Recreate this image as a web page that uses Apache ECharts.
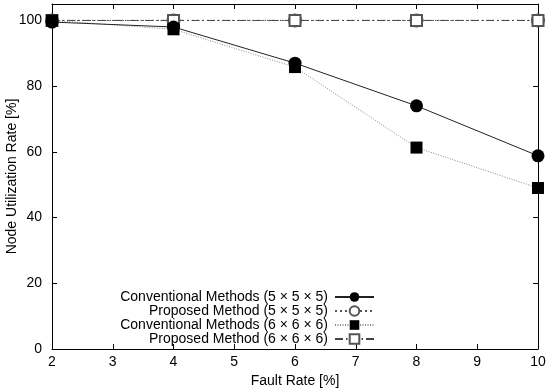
<!DOCTYPE html>
<html><head><meta charset="utf-8">
<script src="https://cdn.jsdelivr.net/npm/echarts@6/dist/echarts.min.js"></script>
<style>html,body{margin:0;padding:0;background:#fff}#c{width:550px;height:389px}</style>
</head><body><div id="c"></div>
<script>
const faultRates = [2, 4, 6, 8, 10];
const conv5 = [99.5, 98.0, 87.0, 74.0, 58.8];
const prop5 = [100, 100, 100, 100, 100];
const conv6 = [100, 97.3, 85.8, 61.3, 49.0];
const prop6 = [100, 100, 100, 100, 100];
const seriesNames = [
  'Conventional Methods (5 × 5 × 5)',
  'Proposed Method (5 × 5 × 5)',
  'Conventional Methods (6 × 6 × 6)',
  'Proposed Method (6 × 6 × 6)'
];
const pair = arr => faultRates.map((x, i) => [x, arr[i]]);
const font = 'Liberation Sans, Arial, sans-serif';
const chart = echarts.init(document.getElementById('c'), null, {renderer: 'canvas'});
const axLine = {show: true, onZero: false, lineStyle: {color: '#000', width: 1}};
const tick = {inside: true, length: 5, lineStyle: {color: '#000'}};
chart.setOption({
  animation: false,
  grid: {left: 52, right: 12, top: 4, bottom: 40, outerBoundsMode: 'none', containLabel: false},
  legend: {
    right: 170, bottom: 38, orient: 'vertical', align: 'right',
    itemGap: 0, itemWidth: 39, itemHeight: 12,
    textStyle: {fontFamily: font, fontSize: 14, lineHeight: 14, color: '#000', padding: [0, 2, 0, 0]},
    data: seriesNames
  },
  xAxis: [{
    type: 'value', min: 2, max: 10, interval: 1,
    name: 'Fault Rate [%]', nameLocation: 'middle', nameGap: 23,
    nameTextStyle: {fontFamily: font, fontSize: 14, color: '#000'},
    axisLine: axLine, axisTick: tick,
    axisLabel: {fontFamily: font, fontSize: 14, color: '#000', margin: 6},
    splitLine: {show: false}
  }, {
    type: 'value', min: 2, max: 10, interval: 1, position: 'top',
    axisLine: axLine, axisTick: tick,
    axisLabel: {show: false}, splitLine: {show: false}
  }],
  yAxis: [{
    type: 'value', min: 0, max: 105, interval: 20,
    name: 'Node Utilization Rate [%]', nameLocation: 'middle', nameGap: 33,
    nameMoveOverlap: false,
    nameTextStyle: {fontFamily: font, fontSize: 14, color: '#000'},
    axisLine: axLine, axisTick: tick,
    axisLabel: {fontFamily: font, fontSize: 14, color: '#000', margin: 10,
      showMaxLabel: false, formatter: v => (v % 20 === 0 ? String(v) : '')},
    splitLine: {show: false}
  }, {
    type: 'value', min: 0, max: 105, interval: 20, position: 'right',
    axisLine: axLine, axisTick: tick,
    axisLabel: {show: false}, splitLine: {show: false}
  }],
  series: [
    {name: seriesNames[0], type: 'line', data: pair(conv5), symbol: 'circle', symbolSize: 13,
      itemStyle: {color: '#000'}, lineStyle: {color: '#222', width: 1, type: 'solid'}, z: 4},
    {name: seriesNames[1], type: 'line', data: pair(prop5), symbol: 'emptyCircle', symbolSize: 12,
      itemStyle: {color: '#555', borderColor: '#555', borderWidth: 1},
      lineStyle: {color: '#555', width: 1, type: [2, 3]}, z: 2},
    {name: seriesNames[2], type: 'line', data: pair(conv6), symbol: 'rect', symbolSize: 12,
      itemStyle: {color: '#000'}, lineStyle: {color: '#888', width: 1, type: [1, 1.5]}, z: 3},
    {name: seriesNames[3], type: 'line', data: pair(prop6), symbol: 'emptyRect', symbolSize: 11,
      itemStyle: {color: '#555', borderColor: '#555', borderWidth: 1},
      lineStyle: {color: '#444', width: 1, type: [8, 3, 1.5, 3]}, z: 2}
  ]
});
</script></body></html>
